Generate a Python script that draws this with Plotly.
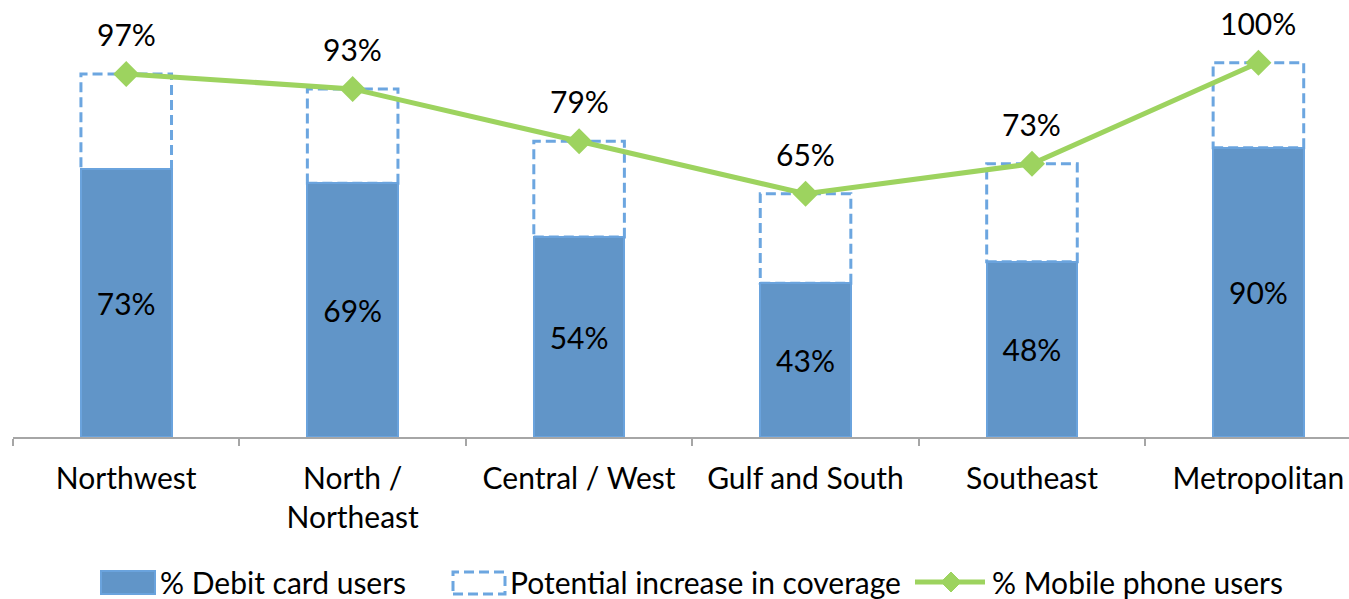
import plotly.graph_objects as go

# ---------------- data ----------------
categories = ["Northwest", "North /<br>Northeast", "Central / West",
              "Gulf and South", "Southeast", "Metropolitan"]
# heights of the solid bars as drawn in the picture
debit_bar_height = [71.5, 67.8, 53.4, 41.1, 46.8, 77.3]
debit_labels = ["73%", "69%", "54%", "43%", "48%", "90%"]
mobile_values = [97, 93, 79, 65, 73, 100]
mobile_labels = ["97%", "93%", "79%", "65%", "73%", "100%"]
potential_increase = [m - d for m, d in zip(mobile_values, debit_bar_height)]

series_names = ["% Debit card users", "Potential increase in coverage", "% Mobile phone users"]

# ---------------- styles ----------------
FONT = "Lato"
FS = 30
BAR_FILL = "#6195C8"
BAR_EDGE = "#6AA3DD"
DASH_COLOR = "#6CA6E0"
GREEN = "#9DD35F"
AXIS_GRAY = "#A6A6A6"
BAR_W = 0.4

W, H = 1349, 599
ML, MR, MT, MB = 13, 0, 10, 162
PW, PH = W - ML - MR, H - MT - MB


def px2paper_x(px):
    return (px - ML) / PW


def px2paper_y(py):
    return (H - MB - py) / PH


fig = go.Figure()

fig.add_trace(go.Bar(
    x=categories, y=debit_bar_height, name=series_names[0], width=BAR_W,
    marker=dict(color=BAR_FILL, line=dict(color=BAR_EDGE, width=2)),
    text=debit_labels, textposition="inside", insidetextanchor="middle",
    textangle=0, textfont=dict(family=FONT, size=FS, color="black"),
    constraintext="none", showlegend=False,
))
fig.add_trace(go.Bar(
    x=categories, y=potential_increase, name=series_names[1], width=BAR_W,
    marker=dict(color="rgba(0,0,0,0)", line=dict(width=0)),
    showlegend=False, hoverinfo="skip",
))
fig.add_trace(go.Scatter(
    x=categories, y=mobile_values, name=series_names[2], mode="lines+markers",
    line=dict(color=GREEN, width=5),
    marker=dict(symbol="diamond", size=20, color=GREEN),
    showlegend=False,
))

shapes = []
for i in range(len(categories)):
    shapes.append(dict(
        type="rect", xref="x", yref="y",
        x0=i - BAR_W / 2, x1=i + BAR_W / 2,
        y0=debit_bar_height[i], y1=debit_bar_height[i] + potential_increase[i],
        line=dict(color=DASH_COLOR, width=3, dash="10px,5px"),
        fillcolor="rgba(0,0,0,0)", layer="below",
    ))

annotations = []
for c, v, t in zip(categories, mobile_values, mobile_labels):
    annotations.append(dict(
        x=c, y=v, xref="x", yref="y", text=t, showarrow=False,
        yshift=40, yanchor="middle",
        font=dict(family=FONT, size=FS, color="black"),
    ))

# ---- manual legend ----
LEG_Y = 582
shapes.append(dict(type="rect", xref="paper", yref="paper",
                   x0=px2paper_x(101), x1=px2paper_x(155),
                   y0=px2paper_y(594), y1=px2paper_y(571),
                   fillcolor=BAR_FILL, line=dict(color=BAR_EDGE, width=2)))
shapes.append(dict(type="rect", xref="paper", yref="paper",
                   x0=px2paper_x(453), x1=px2paper_x(505),
                   y0=px2paper_y(594), y1=px2paper_y(572),
                   fillcolor="rgba(0,0,0,0)",
                   line=dict(color=DASH_COLOR, width=3, dash="10px,5px")))
shapes.append(dict(type="line", xref="paper", yref="paper",
                   x0=px2paper_x(915), x1=px2paper_x(985),
                   y0=px2paper_y(LEG_Y), y1=px2paper_y(LEG_Y),
                   line=dict(color=GREEN, width=5)))
dcx, dr = 951, 10
shapes.append(dict(
    type="path", xref="paper", yref="paper",
    path="M {} {} L {} {} L {} {} L {} {} Z".format(
        px2paper_x(dcx - dr), px2paper_y(LEG_Y),
        px2paper_x(dcx), px2paper_y(LEG_Y - dr),
        px2paper_x(dcx + dr), px2paper_y(LEG_Y),
        px2paper_x(dcx), px2paper_y(LEG_Y + dr)),
    fillcolor=GREEN, line=dict(color=GREEN, width=1)))

for name, xs in zip(series_names, [158, 508, 990]):
    annotations.append(dict(
        x=px2paper_x(xs), y=px2paper_y(LEG_Y), xref="paper", yref="paper",
        text=name, showarrow=False, xanchor="left", yanchor="middle",
        font=dict(family=FONT, size=FS, color="black"),
    ))

fig.update_layout(
    width=W, height=H, autosize=False,
    margin=dict(l=ML, r=MR, t=MT, b=MB, pad=0),
    paper_bgcolor="white", plot_bgcolor="white",
    barmode="stack", showlegend=False,
    font=dict(family=FONT, size=FS, color="black"),
    shapes=shapes, annotations=annotations,
    xaxis=dict(
        type="category", range=[-0.5, 5.4], showgrid=False,
        showline=True, linecolor=AXIS_GRAY, linewidth=2,
        ticks="outside", ticklen=7, tickwidth=2, tickcolor=AXIS_GRAY,
        tickson="boundaries", ticklabelstandoff=14,
        tickfont=dict(family=FONT, size=FS, color="black"),
    ),
    yaxis=dict(range=[0, (H - MB - MT) / 3.743], visible=False,
               showgrid=False, zeroline=False),
)

fig.write_html("out.html", config={"displayModeBar": False},
               post_script="document.body.style.margin='0';")
